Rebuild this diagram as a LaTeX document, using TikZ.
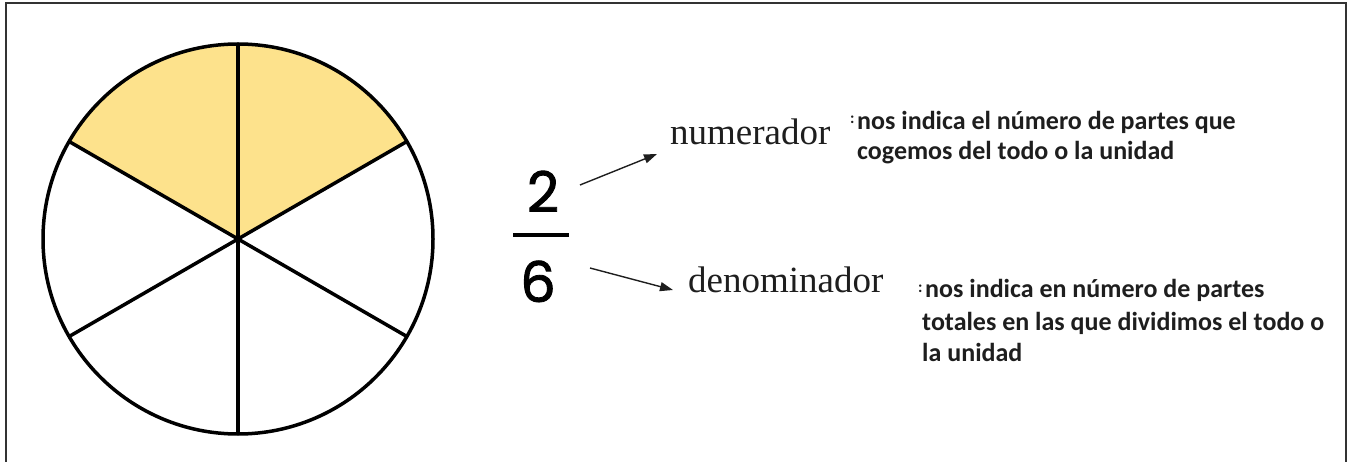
\documentclass[tikz,border=0pt]{standalone}
\usepackage{fontspec}
\setmainfont{Liberation Serif}
\newfontfamily\descfont{Carlito}
\newfontfamily\digitfont[FakeBold=1.5]{Poppins}
\usetikzlibrary{arrows.meta}
\definecolor{piefill}{RGB}{253,226,140}
\definecolor{ink}{RGB}{30,30,30}
\tikzset{
  pieline/.style={line width=3.5pt, black},
  arr/.style={line width=1.4pt, ink, -{Triangle[length=13pt,width=9pt]}},
  digit/.style={font=\digitfont\fontsize{56}{56}\selectfont, text=black, inner sep=0pt, anchor=base},
  term/.style={font=\fontsize{37}{37}\selectfont, text=ink, inner sep=0pt, anchor=base west},
  desc/.style={font=\descfont\bfseries\fontsize{26}{31}\selectfont, text=ink, inner sep=0pt, anchor=base west},
  colonmark/.style={font=\descfont\bfseries\fontsize{16}{16}\selectfont, text=ink, inner sep=0pt, anchor=base west},
}
\begin{document}
\begin{tikzpicture}[x=1pt,y=-1pt]
\useasboundingbox (0,0) rectangle (1354,462);
% frame
\draw[line width=2pt, black!80] (6,462) -- (6,3) -- (1346,3) -- (1346,462);
% pie
\coordinate (c) at (238,239);
\fill[piefill] (c) -- ++(-30:195) arc[start angle=-30, end angle=-150, radius=195] -- cycle;
\draw[pieline] (c) circle[radius=195];
\foreach \a in {30,90,150,210,270,330}{
  \draw[pieline] (c) -- ++(\a:195);
}
% fraction
\node[digit] (two) at (543,212) {2};
\node[digit] (six) at (538,302) {6};
\draw[line width=4.5pt, black] (513,235) -- (569,235);
% terms
\node[term] (numer) at (670,145) {numerador};
\node[term] (denom) at (688,293) {denominador};
% arrows
\coordinate (s1) at (580,185);
\coordinate (s2) at (590,268);
\draw[arr] (s1) -- ([xshift=-13pt,yshift=-9pt]numer.base west);
\draw[arr] (s2) -- ([xshift=-15pt,yshift=3pt]denom.base west);
% descriptions
\node[colonmark] (c1) at (850,124) {:};
\node[desc] (d1a) at (857,130) {nos indica el número de partes que};
\node[desc] (d1b) at (857,160) {cogemos del todo o la unidad};
\node[colonmark] (c2) at (918,292) {:};
\node[desc] (d2a) at (925,298) {nos indica en número de partes};
\node[desc] (d2b) at (922,330) {totales en las que dividimos el todo o};
\node[desc] (d2c) at (922,361) {la unidad};
\end{tikzpicture}
\end{document}
